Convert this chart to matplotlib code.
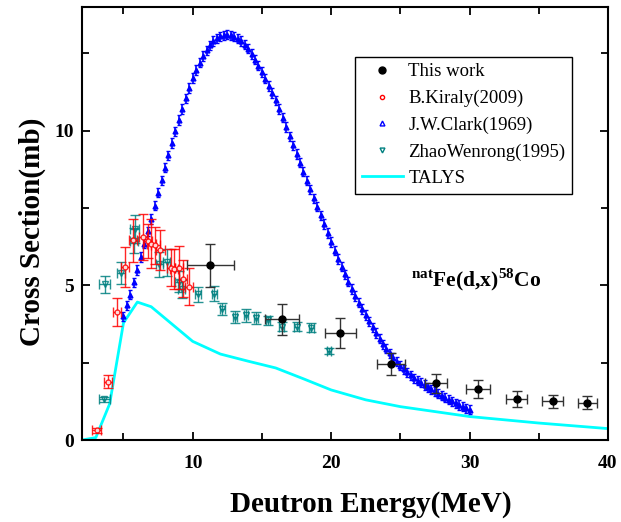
import matplotlib
matplotlib.use('Agg')
import matplotlib.pyplot as plt
from matplotlib.lines import Line2D

plt.rcParams['font.family'] = 'Liberation Serif'
plt.rcParams['mathtext.fontset'] = 'custom'
plt.rcParams['mathtext.rm'] = 'Liberation Serif:bold'
plt.rcParams['mathtext.bf'] = 'Liberation Serif:bold'

# this work: energy, xs, energy err, xs err
work_e = [11.27, 16.45, 20.67, 24.31, 27.57, 30.6, 33.4, 36.0, 38.5]
work_xs = [5.65, 3.91, 3.46, 2.45, 1.83, 1.65, 1.32, 1.25, 1.21]
work_de = [1.7, 1.25, 1.1, 1.0, 0.8, 0.85, 0.75, 0.75, 0.7]
work_dxs = [0.7, 0.5, 0.47, 0.35, 0.3, 0.28, 0.25, 0.2, 0.2]

# B.Kiraly (2009)
kir_e = [3.06, 3.86, 4.55, 5.12, 5.68, 6.40, 6.78, 7.02, 7.31, 7.67, 8.44, 8.63, 8.99, 9.32, 9.71]
kir_xs = [0.32, 1.89, 4.15, 5.60, 6.46, 6.57, 6.44, 6.35, 6.30, 6.15, 5.57, 5.54, 5.57, 5.22, 4.96]
kir_dxs = [0.08, 0.22, 0.45, 0.65, 0.7, 0.75, 0.55, 0.8, 0.6, 0.65, 0.6, 0.65, 0.7, 0.6, 0.6]
kir_de = 0.3

# ZhaoWenrong (1995)
zhao_e = [3.62, 3.64, 4.82, 5.80, 5.75, 7.58, 8.12, 9.00, 9.20, 10.39, 11.56, 12.15, 13.07,
          13.84, 14.58, 15.46, 16.42, 17.50, 18.58, 19.83]
zhao_xs = [1.32, 5.03, 5.39, 6.82, 6.44, 5.68, 5.74, 5.12, 4.88, 4.71, 4.73, 4.24, 3.97,
           4.03, 3.95, 3.87, 3.66, 3.66, 3.63, 2.87]
zhao_dxs = [0.08, 0.28, 0.35, 0.45, 0.4, 0.4, 0.45, 0.35, 0.3, 0.25, 0.25, 0.2, 0.2,
            0.2, 0.2, 0.15, 0.15, 0.15, 0.15, 0.1]
zhao_de = [0.4, 0.4, 0.3, 0.3, 0.3, 0.25, 0.25, 0.25, 0.25, 0.2, 0.2, 0.15, 0.15,
           0.15, 0.15, 0.15, 0.15, 0.15, 0.15, 0.15]

# J.W.Clark (1969)
clark_e = [5.00, 5.25, 5.50, 5.75, 6.00, 6.25, 6.50, 6.75, 7.00, 7.25, 7.50, 7.75, 8.00,
           8.25, 8.50, 8.75, 9.00, 9.25, 9.50, 9.75, 10.00, 10.25, 10.50, 10.75, 11.00,
           11.25, 11.50, 11.75, 12.00, 12.25, 12.50, 12.75, 13.00, 13.25, 13.50, 13.75,
           14.00, 14.25, 14.50, 14.75, 15.00, 15.25, 15.50, 15.75, 16.00, 16.25, 16.50,
           16.75, 17.00, 17.25, 17.50, 17.75, 18.00, 18.25, 18.50, 18.75, 19.00, 19.25,
           19.50, 19.75, 20.00, 20.25, 20.50, 20.75, 21.00, 21.25, 21.50, 21.75, 22.00,
           22.25, 22.50, 22.75, 23.00, 23.25, 23.50, 23.75, 24.00, 24.25, 24.50, 24.75,
           25.00, 25.25, 25.50, 25.75, 26.00, 26.25, 26.50, 26.75, 27.00, 27.25, 27.50,
           27.75, 28.00, 28.25, 28.50, 28.75, 29.00, 29.25, 29.50, 29.75, 30.00]
clark_xs = [4.00, 4.35, 4.70, 5.10, 5.50, 5.92, 6.35, 6.75, 7.15, 7.58, 8.00, 8.40, 8.80,
            9.20, 9.60, 9.98, 10.35, 10.70, 11.05, 11.38, 11.70, 11.96, 12.20, 12.42, 12.60,
            12.76, 12.90, 12.99, 13.05, 13.09, 13.10, 13.08, 13.04, 12.98, 12.90, 12.78,
            12.65, 12.48, 12.30, 12.10, 11.90, 11.68, 11.45, 11.22, 10.98, 10.70, 10.42,
            10.12, 9.82, 9.53, 9.25, 8.97, 8.68, 8.39, 8.10, 7.82, 7.55, 7.27,
            6.98, 6.69, 6.40, 6.12, 5.85, 5.60, 5.36, 5.12, 4.88, 4.66, 4.44,
            4.24, 4.04, 3.84, 3.65, 3.46, 3.28, 3.10, 2.95, 2.80, 2.66, 2.53,
            2.40, 2.29, 2.19, 2.09, 2.00, 1.92, 1.85, 1.78, 1.71, 1.64, 1.57,
            1.50, 1.44, 1.37, 1.31, 1.25, 1.19, 1.13, 1.08, 1.03, 0.98]
clark_dxs = 0.15

# TALYS calculation
talys_e = [2.0, 3.0, 4.0, 5.0, 6.0, 7.0, 10.0, 12.0, 14.0, 16.0, 18.0, 20.0, 22.5, 25.0,
           30.0, 35.0, 40.0]
talys_xs = [0.0, 0.08, 1.17, 3.79, 4.46, 4.31, 3.19, 2.78, 2.55, 2.33, 1.98, 1.62, 1.30,
            1.08, 0.76, 0.55, 0.37]

TEAL = '#008080'

fig = plt.figure(figsize=(6.21, 5.22), dpi=100)
ax = fig.add_axes([0.132, 0.157, 0.847, 0.8296])

ax.plot(talys_e, talys_xs, color='#00ffff', lw=2, zorder=2)

ax.errorbar(clark_e, clark_xs, yerr=clark_dxs, fmt='^', ms=3.5, mfc='#0000ff', mec='#0000ff',
            mew=1, ecolor='#0000ff', elinewidth=1.2, capsize=1.5, zorder=3)

ax.errorbar(zhao_e, zhao_xs, xerr=zhao_de, yerr=zhao_dxs, fmt='v', ms=4, mfc='none',
            mec=TEAL, mew=1, ecolor=TEAL, elinewidth=1, capsize=3.5, alpha=0.85, zorder=4)

ax.errorbar(kir_e, kir_xs, xerr=kir_de, yerr=kir_dxs, fmt='o', ms=3.5, mfc='white',
            mec='#ff0000', mew=1, ecolor='#ff0000', elinewidth=1, capsize=3.5, alpha=0.85,
            zorder=5)

ax.errorbar(work_e, work_xs, xerr=work_de, yerr=work_dxs, fmt='o', ms=5, color='black',
            ecolor='#333333', elinewidth=1, capsize=3.5, zorder=6)

ax.set_xlim(2, 40)
ax.set_ylim(0, 14)
ax.set_xticks([10, 20, 30, 40])
ax.set_xticks([5, 15, 25, 35], minor=True)
ax.set_yticks([0, 5, 10])
ax.set_yticks([2.5, 7.5, 12.5], minor=True)
ax.tick_params(which='both', direction='in', top=True, right=True, width=1.3)
ax.tick_params(which='major', length=6)
ax.tick_params(which='minor', length=5)
ax.tick_params(axis='x', pad=11, labelsize=14)
ax.tick_params(axis='y', pad=6, labelsize=14)
for lab in ax.get_xticklabels() + ax.get_yticklabels():
    lab.set_fontweight('bold')
for sp in ax.spines.values():
    sp.set_linewidth(1.5)

ax.set_xlabel('Deutron Energy(MeV)', fontsize=21, fontweight='bold')
ax.set_ylabel('Cross Section(mb)', fontsize=21, fontweight='bold')
ax.xaxis.set_label_coords(0.55, -0.118)
ax.yaxis.set_label_coords(-0.068, 0.48)

ax.text(30.5, 5.2, r'$^{\mathbf{nat}}$Fe(d,x)$^{\mathbf{58}}$Co', fontsize=15.5,
        fontweight='bold', ha='center', va='center')

handles = [
    Line2D([], [], ls='none', marker='o', ms=5, color='black'),
    Line2D([], [], ls='none', marker='o', ms=3, mfc='none', mec='#ff0000'),
    Line2D([], [], ls='none', marker='^', ms=3.5, mfc='none', mec='#0000ff'),
    Line2D([], [], ls='none', marker='v', ms=3.5, mfc='none', mec=TEAL),
    Line2D([], [], color='#00ffff', lw=2),
]
labels = ['This work', 'B.Kiraly(2009)', 'J.W.Clark(1969)', 'ZhaoWenrong(1995)', 'TALYS']
leg = ax.legend(handles, labels, loc='upper left', bbox_to_anchor=(0.519, 0.885),
                fontsize=13.5, frameon=True, fancybox=False, edgecolor='black',
                framealpha=1, handlelength=2.2, handletextpad=0.3, labelspacing=0.5,
                borderpad=0.35, borderaxespad=0)
leg.get_frame().set_linewidth(1)

fig.savefig('out.png', dpi=100)
